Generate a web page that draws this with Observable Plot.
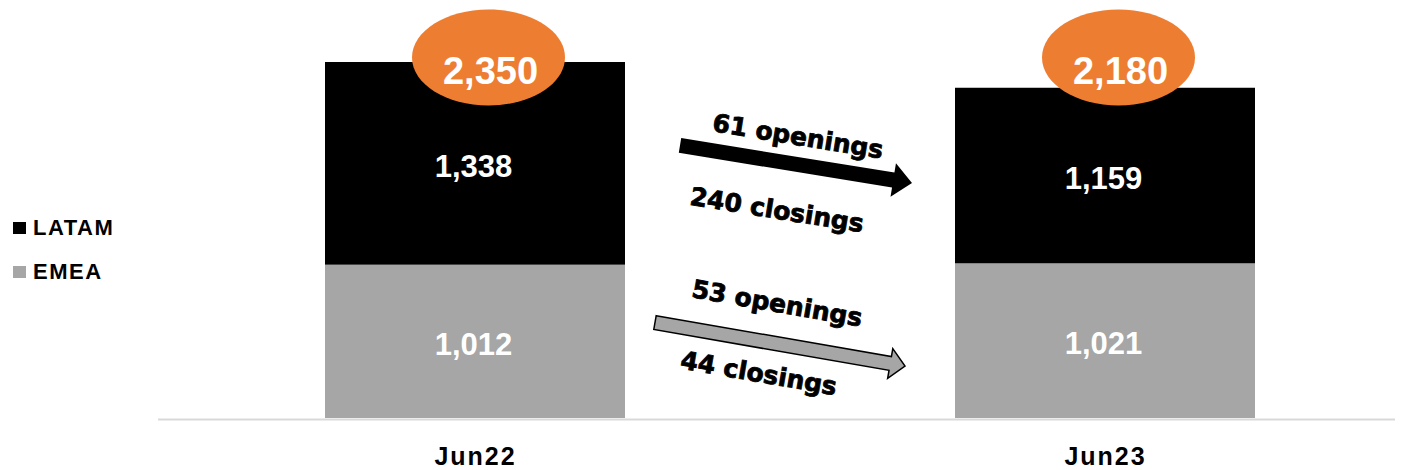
<!DOCTYPE html>
<html>
<head>
<meta charset="utf-8">
<script src="https://cdn.jsdelivr.net/npm/d3@7"></script>
<script src="https://cdn.jsdelivr.net/npm/@observablehq/plot@0.6"></script>
<style>
  body { margin: 0; background: #fff; }
  #wrap { position: relative; width: 1406px; height: 470px; }
  .legend-item { position: absolute; left: 13px; height: 24px; display: flex; align-items: center;
    font-family: "Liberation Sans", Arial, sans-serif; font-weight: bold; font-size: 22px; letter-spacing: 1.5px; color: #000; }
  .legend-item .sw { width: 13px; height: 12px; margin-right: 7px; }
  g[aria-label="x-axis tick label"] text { letter-spacing: 2px; }
</style>
</head>
<body>
<div id="wrap"></div>
<script>
// ---- data ----
const periods = ["Jun22", "Jun23"];
const seriesNames = ["EMEA", "LATAM"];          // stacking order, bottom to top
const emeaValues = [1012, 1021];
const latamValues = [1338, 1159];
const totalValues = [2350, 2180];
const flowSeries = ["LATAM", "EMEA"];
const openingsCount = [61, 53];
const closingsCount = [240, 44];
const legendOrder = ["LATAM", "EMEA"];

// ---- styling / layout ----
const seriesColors = ["#a6a6a6", "#000000"];
const badgeColor = "#ed7d31";
const fmt = d3.format(",");
const paddingInner = 0.5235;

const stackData = [];
periods.forEach((p, i) => {
  stackData.push({period: p, series: "EMEA", value: emeaValues[i]});
  stackData.push({period: p, series: "LATAM", value: latamValues[i]});
});
const totalsData = periods.map((p, i) => ({period: p, total: totalValues[i]}));

// annotation layout for the flow arrows (y in data units, gaps in px)
const arrowLayout = {
  LATAM: {fromY: 1799, toY: 1551, tailGap: 55, tipGap: 43, half: 7.5, headLen: 19, headHalf: 17,
          fill: "#000000", stroke: "none", open: [115, -28], close: [106, 48]},
  EMEA:  {fromY: 630, toY: 343, tailGap: 30, tipGap: 50, half: 7, headLen: 15, headHalf: 15,
          fill: "#a6a6a6", stroke: "#000000", open: [117, -40], close: [111, 32]}
};

// ellipse symbol for total badges
const ellipseSymbol = {
  draw(ctx) {
    const rx = 76.5, ry = 48, k = 0.5523;
    ctx.moveTo(rx, 0);
    ctx.bezierCurveTo(rx, ry * k, rx * k, ry, 0, ry);
    ctx.bezierCurveTo(-rx * k, ry, -rx, ry * k, -rx, 0);
    ctx.bezierCurveTo(-rx, -ry * k, -rx * k, -ry, 0, -ry);
    ctx.bezierCurveTo(rx * k, -ry, rx, -ry * k, rx, 0);
    ctx.closePath();
  }
};

function flowArrows(index, scales) {
  const x = scales.x, y = scales.y;
  let bw = x.bandwidth;
  if (typeof bw === "function") bw = bw();
  if (typeof bw !== "number") bw = (x(periods[1]) - x(periods[0])) * (1 - paddingInner);
  const xRight = x(periods[0]) + bw;
  const xLeft = x(periods[1]);
  const g = d3.create("svg:g").attr("aria-label", "flows");
  flowSeries.forEach((s, i) => {
    const L = arrowLayout[s];
    const x0 = xRight + L.tailGap, y0 = y(L.fromY);
    const x1 = xLeft - L.tipGap, y1 = y(L.toY);
    const len = Math.hypot(x1 - x0, y1 - y0);
    const ang = Math.atan2(y1 - y0, x1 - x0) * 180 / Math.PI;
    const grp = g.append("g").attr("transform", `translate(${x0},${y0}) rotate(${ang})`);
    const b = len - L.headLen;
    const pts = [[0, -L.half], [b, -L.half], [b, -L.headHalf], [len, 0], [b, L.headHalf], [b, L.half], [0, L.half]];
    grp.append("polygon")
      .attr("points", pts.map(p => p.join(",")).join(" "))
      .attr("fill", L.fill)
      .attr("stroke", L.stroke)
      .attr("stroke-width", 1.5)
      .attr("stroke-linejoin", "miter");
    const labels = [[openingsCount[i] + " openings", L.open], [closingsCount[i] + " closings", L.close]];
    labels.forEach(([t, pos]) => {
      grp.append("text")
        .attr("x", pos[0]).attr("y", pos[1]).attr("dy", "0.35em")
        .attr("text-anchor", "middle")
        .attr("font-family", "'DejaVu Sans', sans-serif")
        .attr("font-weight", "bold")
        .attr("font-size", 25)
        .attr("fill", "#000")
        .attr("stroke", "#000")
        .attr("stroke-width", 0.8)
        .text(t);
    });
  });
  return g.node();
}

const chart = Plot.plot({
  width: 1406,
  height: 470,
  marginLeft: 158,
  marginRight: 11,
  marginTop: 0,
  marginBottom: 52,
  style: {fontFamily: "'Liberation Sans', Arial, sans-serif", background: "white", color: "#000"},
  x: {domain: periods, range: [325, 1256], paddingInner, paddingOuter: 0, label: null},
  y: {domain: [0, 2350], range: [418, 62], axis: null},
  color: {domain: seriesNames, range: seriesColors},
  marks: [
    Plot.ruleY([0], {stroke: "#d9d9d9", strokeWidth: 2, dy: 1}),
    Plot.barY(stackData, {x: "period", y: "value", fill: "series", z: "series"}),
    Plot.text(stackData, Plot.stackY({
      x: "period", y: "value", z: "series",
      text: d => fmt(d.value), fill: "white", fontSize: 31, fontWeight: "bold", dy: 3, dx: -2
    })),
    Plot.dot(totalsData, {x: "period", frameAnchor: "top", dy: 57, dx: 13, symbol: ellipseSymbol, r: 10, fill: badgeColor, stroke: "none"}),
    Plot.text(totalsData, {x: "period", frameAnchor: "top", dy: 57, dx: 15, text: d => fmt(d.total), fill: "white", fontSize: 38, fontWeight: "bold"}),
    Plot.axisX({tickSize: 0, tickPadding: 29, fontSize: 25, fontWeight: "bold", label: null}),
    flowArrows
  ]
});

const wrap = document.getElementById("wrap");
wrap.appendChild(chart);

const legendCenters = {LATAM: 228, EMEA: 272};
legendOrder.forEach(s => {
  const item = document.createElement("div");
  item.className = "legend-item";
  item.style.top = (legendCenters[s] - 12) + "px";
  const sw = document.createElement("span");
  sw.className = "sw";
  sw.style.background = seriesColors[seriesNames.indexOf(s)];
  item.appendChild(sw);
  const lbl = document.createElement("span");
  lbl.textContent = s;
  item.appendChild(lbl);
  wrap.appendChild(item);
});
</script>
</body>
</html>
